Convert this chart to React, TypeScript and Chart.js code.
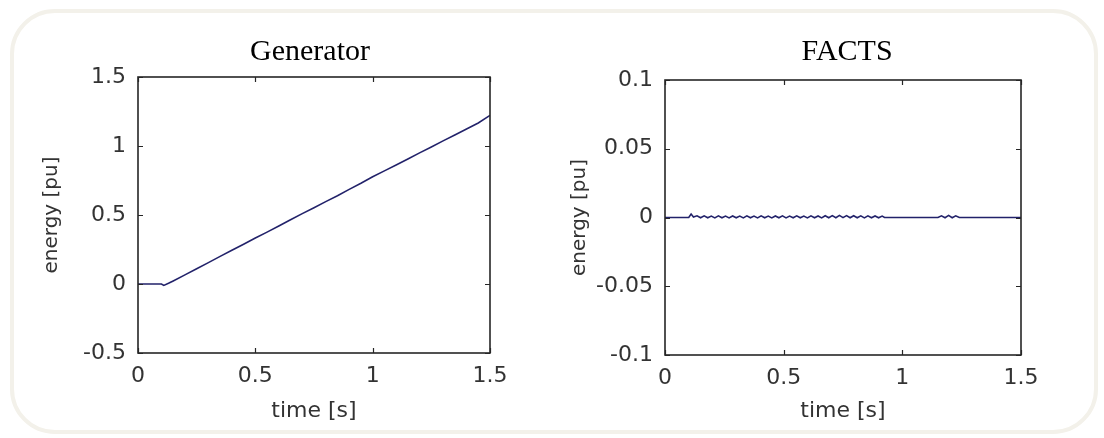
import React, { useEffect, useRef } from "react";
import { Chart, registerables } from "chart.js";

Chart.register(...registerables);

// ---- data ----
const genTime = [0, 0.05, 0.1, 0.11, 0.13, 0.15, 0.2, 0.25, 0.3, 0.35, 0.4, 0.45, 0.5, 0.55, 0.6, 0.65, 0.7, 0.75, 0.8, 0.85, 0.9, 0.95, 1.0, 1.05, 1.1, 1.15, 1.2, 1.25, 1.3, 1.35, 1.4, 1.45, 1.5];
const genEnergy = [0, 0, 0, -0.01, 0.005, 0.022, 0.066, 0.111, 0.155, 0.2, 0.244, 0.288, 0.333, 0.376, 0.42, 0.465, 0.51, 0.553, 0.597, 0.64, 0.686, 0.73, 0.777, 0.82, 0.862, 0.906, 0.95, 0.993, 1.037, 1.08, 1.123, 1.167, 1.222];

const factsTime = [0, 0.09, 0.1, 0.11, 0.12, 0.135, 0.15, 0.165, 0.18, 0.195, 0.21, 0.225, 0.24, 0.255, 0.27, 0.285, 0.3, 0.315, 0.33, 0.345, 0.36, 0.375, 0.39, 0.405, 0.42, 0.435, 0.45, 0.465, 0.48, 0.495, 0.51, 0.525, 0.54, 0.555, 0.57, 0.585, 0.6, 0.615, 0.63, 0.645, 0.66, 0.675, 0.69, 0.705, 0.72, 0.735, 0.75, 0.765, 0.78, 0.795, 0.81, 0.825, 0.84, 0.855, 0.87, 0.885, 0.9, 0.915, 0.925, 1.15, 1.165, 1.18, 1.195, 1.21, 1.225, 1.24, 1.5];
const factsEnergy = [0, 0, 0, 0.0025, 0.0003, 0.0012, -0.0002, 0.0012, -0.0002, 0.001, -0.0003, 0.0012, -0.0002, 0.001, -0.0003, 0.0011, -0.0002, 0.001, -0.0003, 0.0012, -0.0002, 0.001, -0.0003, 0.0012, -0.0002, 0.001, -0.0003, 0.0011, -0.0002, 0.0012, -0.0003, 0.001, -0.0002, 0.0012, -0.0002, 0.001, -0.0003, 0.0012, -0.0002, 0.0011, -0.0003, 0.0013, -0.0002, 0.0014, -0.0002, 0.0015, -0.0001, 0.0014, -0.0002, 0.0013, -0.0002, 0.0012, -0.0003, 0.0012, -0.0002, 0.0011, -0.0002, 0.001, 0, 0, 0.0012, -0.0002, 0.0015, -0.0002, 0.0012, 0, 0];

const timeTicks = [0, 0.5, 1, 1.5];
const genYTicks = [-0.5, 0, 0.5, 1, 1.5];
const factsYTicks = [-0.1, -0.05, 0, 0.05, 0.1];
const plotTitles = ["Generator", "FACTS"];
const xLabel = "time [s]";
const yLabel = "energy [pu]";

const SANS = "'DejaVu Sans', Verdana, sans-serif";
const SERIF = "'Liberation Serif', 'Times New Roman', serif";

const framePlugin = {
  id: "matlabFrame",
  afterDatasetsDraw(chart: any, _args: any, opts: any) {
    const { ctx, chartArea: a, scales } = chart;
    ctx.save();
    ctx.strokeStyle = "#262626";
    ctx.lineWidth = 1.6;
    ctx.strokeRect(a.left, a.top, a.right - a.left, a.bottom - a.top);
    const tl = 5;
    ctx.lineWidth = 1.2;
    ctx.beginPath();
    scales.x.ticks.forEach((t: any) => {
      const px = Math.round(scales.x.getPixelForValue(t.value)) + 0.5;
      ctx.moveTo(px, a.bottom);
      ctx.lineTo(px, a.bottom - tl);
      ctx.moveTo(px, a.top);
      ctx.lineTo(px, a.top + tl);
    });
    scales.y.ticks.forEach((t: any) => {
      const py = Math.round(scales.y.getPixelForValue(t.value)) + 0.5;
      ctx.moveTo(a.left, py);
      ctx.lineTo(a.left + tl, py);
      ctx.moveTo(a.right, py);
      ctx.lineTo(a.right - tl, py);
    });
    ctx.stroke();
    ctx.fillStyle = "#000";
    ctx.font = `30px ${SERIF}`;
    ctx.textAlign = "center";
    ctx.textBaseline = "middle";
    ctx.fillText(opts.text, (a.left + a.right) / 2 + opts.dx, opts.y);
    ctx.restore();
  },
};

type PlotCfg = {
  title: string;
  times: number[];
  values: number[];
  yTicks: number[];
  yWidth: number;
  xHeight: number;
  padTop: number;
  padRight: number;
  yTitlePad: number;
  titleDx: number;
};

function MatlabPlot({ cfg }: { cfg: PlotCfg }) {
  const ref = useRef<HTMLCanvasElement | null>(null);
  useEffect(() => {
    if (!ref.current) return;
    const data = cfg.times.map((t, i) => ({ x: t, y: cfg.values[i] }));
    const tickFont = { family: SANS, size: 22 };
    const yTitleFont = { family: SANS, size: 20 };
    const chart = new Chart(ref.current, {
      type: "line",
      data: {
        datasets: [
          {
            data,
            borderColor: "#22226a",
            borderWidth: 1.6,
            pointRadius: 0,
            tension: 0,
            fill: false,
          },
        ],
      },
      plugins: [framePlugin],
      options: {
        responsive: false,
        animation: false,
        devicePixelRatio: 1,
        layout: { padding: { top: cfg.padTop, right: cfg.padRight, bottom: 0, left: 0 } },
        plugins: {
          legend: { display: false },
          tooltip: { enabled: false },
          title: { display: false },
          matlabFrame: { text: cfg.title, dx: cfg.titleDx, y: 52 },
        } as any,
        scales: {
          x: {
            type: "linear",
            min: timeTicks[0],
            max: timeTicks[timeTicks.length - 1],
            afterBuildTicks: (s: any) => {
              s.ticks = timeTicks.map((v) => ({ value: v }));
            },
            afterFit: (s: any) => {
              s.height = cfg.xHeight;
            },
            grid: { display: false, drawTicks: false },
            border: { display: false },
            ticks: {
              font: tickFont,
              color: "#333",
              padding: 10,
              maxRotation: 0,
              autoSkip: false,
              callback: (v: any) => String(v),
            },
            title: {
              display: true,
              text: xLabel,
              font: tickFont,
              color: "#333",
              padding: { top: 0, bottom: 14 },
            },
          },
          y: {
            type: "linear",
            min: cfg.yTicks[0],
            max: cfg.yTicks[cfg.yTicks.length - 1],
            afterBuildTicks: (s: any) => {
              s.ticks = cfg.yTicks.map((v) => ({ value: v }));
            },
            afterFit: (s: any) => {
              s.width = cfg.yWidth;
            },
            grid: { display: false, drawTicks: false },
            border: { display: false },
            ticks: {
              font: tickFont,
              color: "#333",
              padding: 12,
              autoSkip: false,
              callback: (v: any) => String(v),
            },
            title: {
              display: true,
              text: yLabel,
              font: yTitleFont,
              color: "#333",
              padding: { top: cfg.yTitlePad, bottom: 0 },
            },
          },
        },
      },
    });
    return () => chart.destroy();
  }, [cfg]);
  return <canvas ref={ref} width={552} height={438} style={{ display: "block", width: 552, height: 438 }} />;
}

const leftCfg: PlotCfg = {
  title: plotTitles[0],
  times: genTime,
  values: genEnergy,
  yTicks: genYTicks,
  yWidth: 138,
  xHeight: 85,
  padTop: 77,
  padRight: 62,
  yTitlePad: 40,
  titleDx: -4,
};

const rightCfg: PlotCfg = {
  title: plotTitles[1],
  times: factsTime,
  values: factsEnergy,
  yTicks: factsYTicks,
  yWidth: 113,
  xHeight: 83,
  padTop: 80,
  padRight: 83,
  yTitlePad: 16,
  titleDx: 4,
};

export default function App() {
  return (
    <div style={{ position: "absolute", left: 0, top: 0, width: 1104, height: 438, background: "#fff", overflow: "hidden" }}>
      <div
        style={{
          position: "absolute",
          left: 10,
          top: 9,
          width: 1088 - 8,
          height: 425 - 8,
          border: "4px solid #f3f1ea",
          borderRadius: 45,
        }}
      />
      <div style={{ position: "absolute", left: 0, top: 0 }}>
        <MatlabPlot cfg={leftCfg} />
      </div>
      <div style={{ position: "absolute", left: 552, top: 0 }}>
        <MatlabPlot cfg={rightCfg} />
      </div>
    </div>
  );
}
